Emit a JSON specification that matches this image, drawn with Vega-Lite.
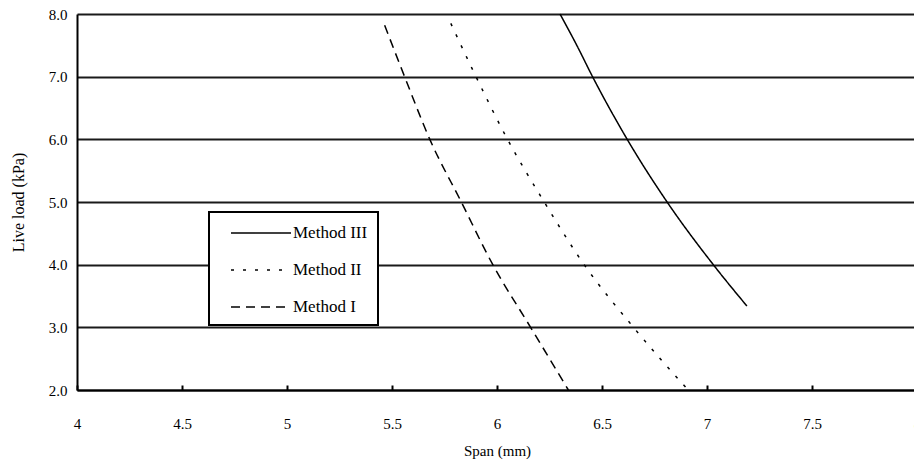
{
  "$schema": "https://vega.github.io/schema/vega-lite/v6.json",
  "autosize": {"type": "none"},
  "padding": {"left": 77, "top": 14, "right": 0, "bottom": 75},
  "width": 840,
  "height": 376,
  "background": "white",
  "config": {
    "view": {"stroke": null},
    "font": "'Liberation Serif', 'DejaVu Serif', serif",
    "axis": {"labelFont": "'Liberation Serif', 'DejaVu Serif', serif", "titleFont": "'Liberation Serif', 'DejaVu Serif', serif"},
    "legend": {"strokeWidth": 2, "labelFont": "'Liberation Serif', 'DejaVu Serif', serif"}
  },
  "data": {"values": [
    {"method": "Method III", "span": 6.30, "load": 8.0},
    {"method": "Method III", "span": 6.38, "load": 7.5},
    {"method": "Method III", "span": 6.455, "load": 7.0},
    {"method": "Method III", "span": 6.62, "load": 6.0},
    {"method": "Method III", "span": 6.81, "load": 5.0},
    {"method": "Method III", "span": 7.03, "load": 4.0},
    {"method": "Method III", "span": 7.19, "load": 3.34},
    {"method": "Method II", "span": 5.78, "load": 7.85},
    {"method": "Method II", "span": 5.90, "load": 7.0},
    {"method": "Method II", "span": 6.05, "load": 6.0},
    {"method": "Method II", "span": 6.225, "load": 5.0},
    {"method": "Method II", "span": 6.415, "load": 4.0},
    {"method": "Method II", "span": 6.65, "load": 3.0},
    {"method": "Method II", "span": 6.91, "load": 2.0},
    {"method": "Method I", "span": 5.465, "load": 7.82},
    {"method": "Method I", "span": 5.56, "load": 7.0},
    {"method": "Method I", "span": 5.68, "load": 6.0},
    {"method": "Method I", "span": 5.83, "load": 5.0},
    {"method": "Method I", "span": 5.98, "load": 4.0},
    {"method": "Method I", "span": 6.16, "load": 3.0},
    {"method": "Method I", "span": 6.34, "load": 2.0}
  ]},
  "mark": {"type": "line", "interpolate": "monotone", "color": "black", "strokeWidth": 1.5},
  "encoding": {
    "x": {
      "field": "span", "type": "quantitative",
      "scale": {"domain": [4, 8], "nice": false, "zero": false},
      "axis": {
        "title": "Span (mm)",
        "values": [4, 4.5, 5, 5.5, 6, 6.5, 7, 7.5, 8],
        "format": "~g",
        "grid": false,
        "domainColor": "black", "domainWidth": 2,
        "tickColor": "black", "tickWidth": 2, "tickSize": -5,
        "labelPadding": 31, "labelFontSize": 15, "labelColor": "black",
        "labelFlush": false,
        "titleFontSize": 15, "titleFontWeight": "normal", "titleColor": "black", "titlePadding": 12
      }
    },
    "y": {
      "field": "load", "type": "quantitative",
      "scale": {"domain": [2, 8], "nice": false, "zero": false},
      "axis": {
        "title": "Live load (kPa)",
        "values": [2, 3, 4, 5, 6, 7, 8],
        "format": ".1f",
        "grid": true, "gridColor": "#1a1a1a", "gridWidth": 2,
        "ticks": false,
        "domainColor": "black", "domainWidth": 2,
        "labelPadding": 10, "labelFontSize": 15, "labelColor": "black",
        "labelFlush": false,
        "titleFontSize": 16, "titleFontWeight": "normal", "titleColor": "black", "titlePadding": 22
      }
    },
    "strokeDash": {
      "field": "method", "type": "nominal",
      "scale": {"domain": ["Method III", "Method II", "Method I"], "range": [[1, 0], [3, 9], [9, 6]]},
      "legend": {
        "title": null,
        "orient": "none", "legendX": 132, "legendY": 198,
        "strokeColor": "black", "fillColor": "white",
        "padding": 10,
        "symbolType": "M-3,0H3", "symbolSize": 400, "symbolStrokeWidth": 1.5, "symbolStrokeColor": "black",
        "symbolOffset": 31,
        "labelFontSize": 17, "labelColor": "black", "labelOffset": 21,
        "rowPadding": 18
      }
    }
  }
}
